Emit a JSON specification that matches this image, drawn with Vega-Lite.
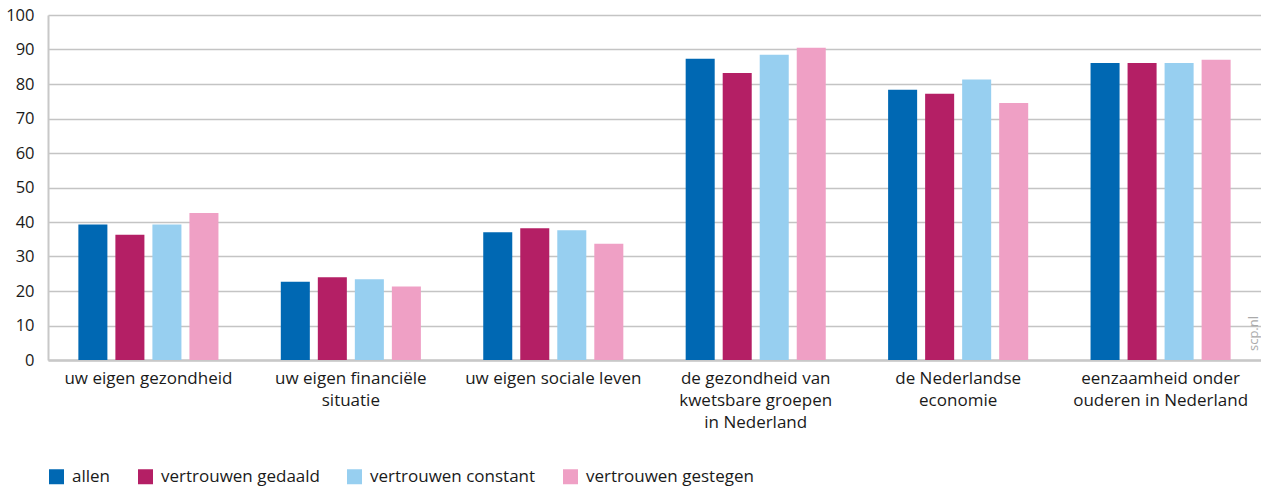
{
  "$schema": "https://vega.github.io/schema/vega-lite/v6.json",
  "width": 1213,
  "height": 345,
  "autosize": {"type": "none"},
  "padding": {"left": 48, "top": 15, "right": 0, "bottom": 128},
  "background": "white",
  "config": {"font": "Open Sans", "view": {"stroke": null}},
  "data": {
    "values": [
      {"onderwerp": "uw eigen gezondheid", "groep": "allen", "waarde": 39.3},
      {"onderwerp": "uw eigen gezondheid", "groep": "vertrouwen gedaald", "waarde": 36.3},
      {"onderwerp": "uw eigen gezondheid", "groep": "vertrouwen constant", "waarde": 39.3},
      {"onderwerp": "uw eigen gezondheid", "groep": "vertrouwen gestegen", "waarde": 42.6},
      {"onderwerp": "uw eigen financiële|situatie", "groep": "allen", "waarde": 22.7},
      {"onderwerp": "uw eigen financiële|situatie", "groep": "vertrouwen gedaald", "waarde": 24.0},
      {"onderwerp": "uw eigen financiële|situatie", "groep": "vertrouwen constant", "waarde": 23.4},
      {"onderwerp": "uw eigen financiële|situatie", "groep": "vertrouwen gestegen", "waarde": 21.3},
      {"onderwerp": "uw eigen sociale leven", "groep": "allen", "waarde": 37.0},
      {"onderwerp": "uw eigen sociale leven", "groep": "vertrouwen gedaald", "waarde": 38.2},
      {"onderwerp": "uw eigen sociale leven", "groep": "vertrouwen constant", "waarde": 37.6},
      {"onderwerp": "uw eigen sociale leven", "groep": "vertrouwen gestegen", "waarde": 33.7},
      {"onderwerp": "de gezondheid van|kwetsbare groepen|in Nederland", "groep": "allen", "waarde": 87.3},
      {"onderwerp": "de gezondheid van|kwetsbare groepen|in Nederland", "groep": "vertrouwen gedaald", "waarde": 83.2},
      {"onderwerp": "de gezondheid van|kwetsbare groepen|in Nederland", "groep": "vertrouwen constant", "waarde": 88.5},
      {"onderwerp": "de gezondheid van|kwetsbare groepen|in Nederland", "groep": "vertrouwen gestegen", "waarde": 90.5},
      {"onderwerp": "de Nederlandse|economie", "groep": "allen", "waarde": 78.3},
      {"onderwerp": "de Nederlandse|economie", "groep": "vertrouwen gedaald", "waarde": 77.2},
      {"onderwerp": "de Nederlandse|economie", "groep": "vertrouwen constant", "waarde": 81.3},
      {"onderwerp": "de Nederlandse|economie", "groep": "vertrouwen gestegen", "waarde": 74.5},
      {"onderwerp": "eenzaamheid onder|ouderen in Nederland", "groep": "allen", "waarde": 86.1},
      {"onderwerp": "eenzaamheid onder|ouderen in Nederland", "groep": "vertrouwen gedaald", "waarde": 86.1},
      {"onderwerp": "eenzaamheid onder|ouderen in Nederland", "groep": "vertrouwen constant", "waarde": 86.1},
      {"onderwerp": "eenzaamheid onder|ouderen in Nederland", "groep": "vertrouwen gestegen", "waarde": 87.0}
    ]
  },
  "mark": {"type": "bar"},
  "encoding": {
    "x": {
      "field": "onderwerp",
      "type": "nominal",
      "sort": ["uw eigen gezondheid", "uw eigen financiële|situatie", "uw eigen sociale leven", "de gezondheid van|kwetsbare groepen|in Nederland", "de Nederlandse|economie", "eenzaamheid onder|ouderen in Nederland"],
      "scale": {"paddingInner": 0.308, "paddingOuter": 0.15},
      "axis": {
        "title": null,
        "labelExpr": "split(datum.label, '|')",
        "labelAngle": 0,
        "labelFontSize": 17,
        "labelColor": "#1a1a1a",
        "labelPadding": 10,
        "labelLineHeight": 22,
        "labelBaseline": "top",
        "labelLimit": 400,
        "ticks": false,
        "domain": true,
        "domainColor": "#c8c8c8",
        "domainWidth": 2.5
      }
    },
    "xOffset": {
      "field": "groep",
      "type": "nominal",
      "sort": ["allen", "vertrouwen gedaald", "vertrouwen constant", "vertrouwen gestegen"],
      "scale": {"paddingInner": 0.216, "paddingOuter": 0}
    },
    "y": {
      "field": "waarde",
      "type": "quantitative",
      "scale": {"domain": [0, 100], "nice": false},
      "axis": {
        "title": "scp.nl",
        "titleAngle": 270,
        "titleX": 1205,
        "titleY": 318,
        "titleAlign": "center",
        "titleBaseline": "middle",
        "titleFontSize": 13,
        "titleFontWeight": "normal",
        "titleColor": "#aaaaaa",
        "values": [0, 10, 20, 30, 40, 50, 60, 70, 80, 90, 100],
        "labelFontSize": 16.5,
        "labelColor": "#1a1a1a",
        "labelPadding": 14,
        "ticks": false,
        "grid": true,
        "gridColor": "#c4c4c4",
        "gridWidth": 1.5,
        "domain": true,
        "domainColor": "#c8c8c8",
        "domainWidth": 2
      }
    },
    "color": {
      "field": "groep",
      "type": "nominal",
      "sort": ["allen", "vertrouwen gedaald", "vertrouwen constant", "vertrouwen gestegen"],
      "scale": {
        "domain": ["allen", "vertrouwen gedaald", "vertrouwen constant", "vertrouwen gestegen"],
        "range": ["#0068b3", "#b41f65", "#97cff0", "#efa0c5"]
      },
      "legend": {
        "title": null,
        "orient": "none",
        "legendX": 0,
        "legendY": 453,
        "direction": "horizontal",
        "symbolType": "square",
        "symbolSize": 225,
        "symbolStrokeWidth": 0,
        "labelFontSize": 17,
        "labelColor": "#1a1a1a",
        "labelOffset": 7,
        "columnPadding": 26,
        "labelLimit": 400
      }
    }
  }
}
